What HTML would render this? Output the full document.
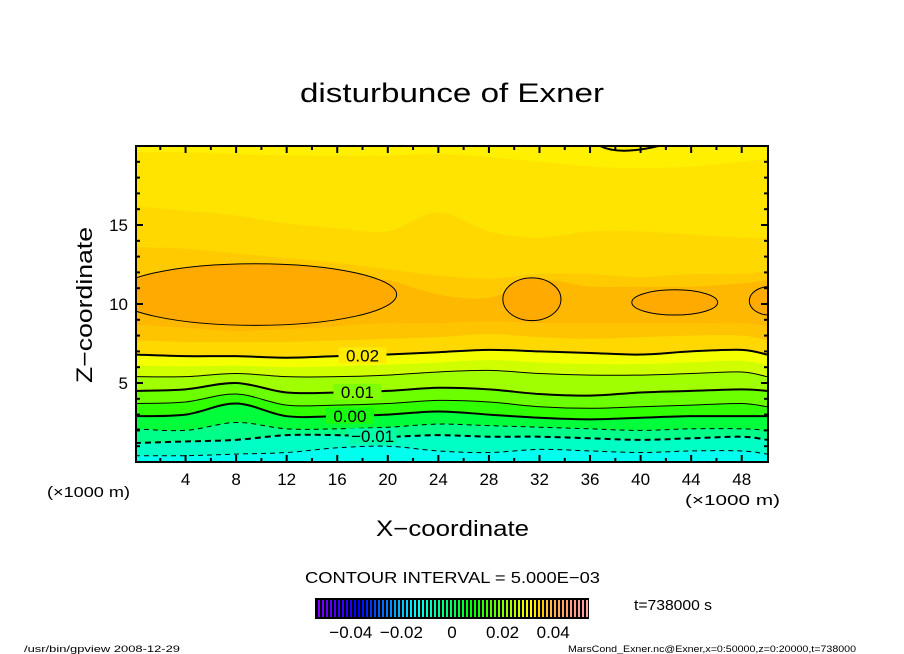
<!DOCTYPE html>
<html><head><meta charset="utf-8"><style>
html,body{margin:0;padding:0;background:#fff;}
svg{display:block;font-family:"Liberation Sans",sans-serif;}
</style></head><body>
<svg id="chart" width="904" height="654" viewBox="0 0 904 654" xmlns="http://www.w3.org/2000/svg">
<text x="300" y="102" textLength="304" lengthAdjust="spacingAndGlyphs" font-size="27">disturbunce of Exner</text>
<defs><clipPath id="pc"><rect x="136" y="146" width="632" height="316"/></clipPath></defs>
<g id="plot" clip-path="url(#pc)"></g>
<g id="axes"></g>
<text x="376" y="536" textLength="153" lengthAdjust="spacingAndGlyphs" font-size="22">X−coordinate</text>
<text transform="translate(92,383) rotate(-90)" textLength="156" lengthAdjust="spacingAndGlyphs" font-size="22">Z−coordinate</text>
<text x="47" y="497" textLength="83" lengthAdjust="spacingAndGlyphs" font-size="15">(×1000 m)</text>
<text x="685" y="505" textLength="95" lengthAdjust="spacingAndGlyphs" font-size="15">(×1000 m)</text>
<text x="305" y="583" textLength="295" lengthAdjust="spacingAndGlyphs" font-size="16">CONTOUR INTERVAL = 5.000E−03</text>
<g id="cbar"></g>
<text x="634" y="610" textLength="78" lengthAdjust="spacingAndGlyphs" font-size="15">t=738000 s</text>
<text x="24" y="652" textLength="156" lengthAdjust="spacingAndGlyphs" font-size="9">/usr/bin/gpview   2008-12-29</text>
<text x="568" y="652" textLength="288" lengthAdjust="spacingAndGlyphs" font-size="9">MarsCond_Exner.nc@Exner,x=0:50000,z=0:20000,t=738000</text>
</svg>
<script>
const xs = [0,4,8,12,16,20,24,28,32,36,40,44,48,50];
const bandColors = ['#ffe400','#ffd800','#ffca00','#ffb800','#ffc400','#ffd800','#f4ff00','#d0ff00','#a0ff00','#6cff00','#30ff00','#00ff3a','#00ff88','#00ffc4','#00ffee'];
const bTop = [19.6,19.6,19.5,19.4,19.4,19.4,19.5,19.3,19.0,18.7,18.6,18.7,19.0,19.2];
const b1 = [16.2,15.9,15.6,15.1,14.8,14.6,15.8,14.6,14.2,14.6,14.6,14.4,14.2,14.2];
const b2 = [13.6,13.5,13.2,12.9,12.6,12.2,11.8,11.6,11.9,11.9,11.7,11.9,11.9,12.1];
const b3 = [11.6,12.2,12.4,12.1,11.8,11.5,10.6,10.4,11.5,11.1,11.1,11.1,11.3,11.5];
const b4 = [8.7,8.5,8.3,8.4,8.6,8.8,8.8,8.9,8.8,8.8,8.8,8.8,8.8,8.6];
const b5 = [7.7,7.6,7.6,7.6,7.7,7.8,7.9,8.1,7.9,7.8,7.9,8.0,8.0,7.7];
const c020 = [6.8,6.7,6.7,6.6,6.7,6.8,6.95,7.1,7.0,6.9,6.8,7.0,7.1,6.8];
const c0175 = [6.1,6.05,6.1,6.0,6.05,6.15,6.3,6.45,6.3,6.2,6.2,6.3,6.4,6.1];
const c015 = [5.4,5.4,5.6,5.4,5.4,5.5,5.7,5.8,5.6,5.5,5.5,5.6,5.7,5.4];
const c010 = [4.5,4.6,5.0,4.4,4.4,4.5,4.7,4.6,4.3,4.2,4.4,4.5,4.6,4.5];
const c005 = [3.7,3.8,4.3,3.6,3.6,3.7,3.9,3.8,3.5,3.4,3.5,3.6,3.7,3.5];
const c000 = [2.9,3.0,3.7,2.9,2.9,3.0,3.2,3.0,2.8,2.7,2.8,2.9,2.9,2.9];
const cm005 = [2.1,2.0,2.5,2.1,2.1,2.2,2.4,2.3,2.2,2.1,2.0,2.1,2.1,2.0];
const cm010 = [1.2,1.3,1.4,1.7,1.7,1.6,1.7,1.6,1.6,1.5,1.4,1.5,1.6,1.4];
const cm015 = [0.4,0.4,0.5,0.6,0.9,1.0,0.7,0.6,0.8,0.7,0.6,0.7,0.7,0.5];
const blobCx = [9.5,31.4,42.7,50.2];
const blobCz = [10.6,10.3,10.1,10.2];
const blobRx = [11.2,2.3,3.4,1.6];
const blobRz = [1.95,1.35,0.8,0.9];
const xTicks = [4,8,12,16,20,24,28,32,36,40,44,48];
const yTicks = [5,10,15];
const cbTicks = [-0.04,-0.02,0,0.02,0.04];
const cbTickLabels = ['−0.04','−0.02','0','0.02','0.04'];

const NS='http://www.w3.org/2000/svg';
const X = v => 135 + v*(632/50);
const Y = v => 462 - v*(316/20);
function mk(tag, attrs, parent){const e=document.createElementNS(NS,tag);for(const k in attrs)e.setAttribute(k,attrs[k]);parent.appendChild(e);return e;}
function curve(zs){
  const p = xs.map((x,i)=>[X(x),Y(zs[i])]);
  let d = 'M'+p[0][0]+','+p[0][1];
  for(let i=0;i<p.length-1;i++){
    const p0=p[Math.max(0,i-1)],p1=p[i],p2=p[i+1],p3=p[Math.min(p.length-1,i+2)];
    const c1=[p1[0]+(p2[0]-p0[0])/6,p1[1]+(p2[1]-p0[1])/6];
    const c2=[p2[0]-(p3[0]-p1[0])/6,p2[1]-(p3[1]-p1[1])/6];
    d+=' C'+c1[0]+','+c1[1]+' '+c2[0]+','+c2[1]+' '+p2[0]+','+p2[1];
  }
  return d;
}
const plot=document.getElementById('plot');
const bg=mk('rect',{x:130,y:140,width:650,height:330,fill:'#fff000'},plot);


const bounds=[bTop,b1,b2,b3,b4,b5,c020,c0175,c015,c010,c005,c000,cm005,cm010,cm015];
bounds.forEach((b,i)=>{
  const d=curve(b)+' L'+X(52)+','+Y(b[b.length-1])+' L'+X(52)+',470 L'+X(-2)+',470 L'+X(-2)+','+Y(b[0])+' Z';
  const el=mk('path',{d:d,fill:bandColors[i]},plot);
  
  
  if(i===3){
    blobCx.forEach((cx,j)=>{
      const e=mk('ellipse',{cx:X(cx),cy:Y(blobCz[j]),rx:blobRx[j]*632/50,ry:blobRz[j]*316/20,fill:'#ffaa00',stroke:'#000','stroke-width':1},plot);
      
      
    });
  }
});
const tc=mk('path',{d:'M'+X(36.8)+','+Y(20)+' Q'+X(38.3)+','+Y(19.4)+' '+X(41.4)+','+Y(20),fill:'none',stroke:'#000','stroke-width':2},plot);


const lines=[[c020,2,''],[c015,1,''],[c010,2,''],[c005,1,''],[c000,2,''],[cm005,1,'5,4'],[cm010,2,'6,4'],[cm015,1,'5,4']];
lines.forEach(l=>{
  const e=mk('path',{d:curve(l[0]),fill:'none',stroke:'#000','stroke-width':l[1],'stroke-dasharray':l[2]},plot);
  
  
});
const labs=[['0.02',c020,18.0,'#ffeb00'],['0.01',c010,17.6,'#80ff00'],['0.00',c000,17.0,'#18ff10'],['−0.01',cm010,18.8,'#00ffa8']];
labs.forEach(l=>{
  const xi=xs.findIndex(x=>x>=l[2]);const z=l[1][xi-1]+(l[1][xi]-l[1][xi-1])*(l[2]-xs[xi-1])/4;
  const r=mk('rect',{x:X(l[2])-24,y:Y(z)-8,width:48,height:16,fill:l[3]},plot);
  
  
  const t=mk('text',{x:X(l[2]),y:Y(z)+6,'text-anchor':'middle','font-size':17},plot);
  t.textContent=l[0];
  
  
});
const ax=document.getElementById('axes');
const fr=mk('rect',{x:136,y:146,width:632,height:316,fill:'none',stroke:'#000','stroke-width':2},ax);


for(let v=2;v<50;v+=2){const L=(v%4===0)?7:4;
  mk('line',{x1:X(v),x2:X(v),y1:462,y2:462-L,stroke:'#000','stroke-width':2},ax);
  mk('line',{x1:X(v),x2:X(v),y1:146,y2:146+L,stroke:'#000','stroke-width':2},ax);}
for(let v=1;v<20;v++){const L=(v%5===0)?7:4;
  mk('line',{x1:136,x2:136+L,y1:Y(v),y2:Y(v),stroke:'#000','stroke-width':2},ax);
  mk('line',{x1:768,x2:768-L,y1:Y(v),y2:Y(v),stroke:'#000','stroke-width':2},ax);}
xTicks.forEach(v=>{const t=mk('text',{x:X(v),y:485,'text-anchor':'middle','font-size':17},ax);t.textContent=v;
  
  });
yTicks.forEach(v=>{const t=mk('text',{x:128,y:Y(v)+6,'text-anchor':'end','font-size':17},ax);t.textContent=v;
  
  });
const cb=document.getElementById('cbar');
mk('rect',{x:315,y:598,width:274,height:21,fill:'#000'},cb);
const n=68;
for(let i=0;i<n;i++){const f=i/(n-1);
  const h=f<0.15?270-f/0.15*30:240-(f-0.15)/0.85*240;
  const li=f>0.85?60+(f-0.85)*150:50;
  mk('rect',{x:318+i*4,y:600,width:2,height:17,fill:'hsl('+h+',100%,'+li+'%)'},cb);}
const CX=v=>452+v*(272/0.1)*0.93;
cbTicks.forEach((v,i)=>{const t=mk('text',{x:CX(v),y:638,'text-anchor':'middle','font-size':17},cb);t.textContent=cbTickLabels[i];
  
  });
</script>
</body></html>
